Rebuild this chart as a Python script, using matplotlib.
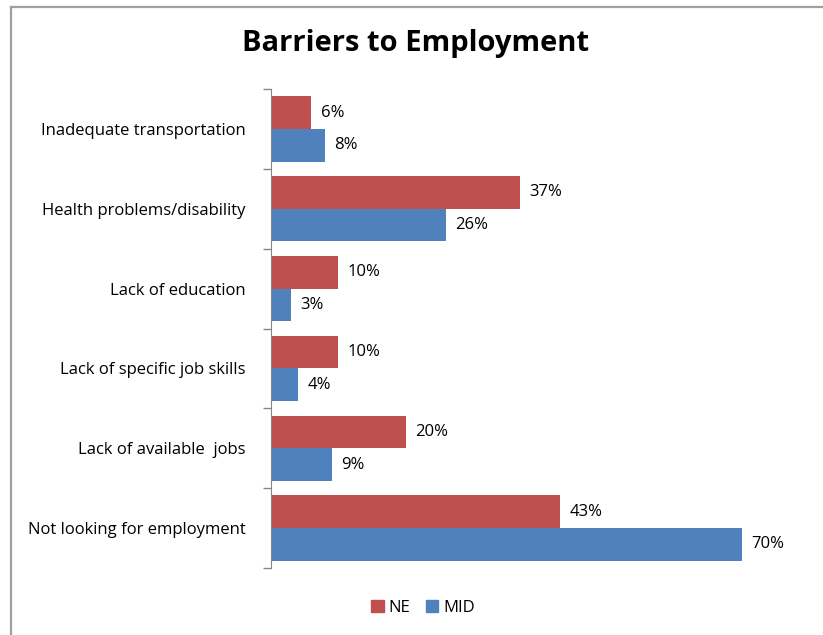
import numpy as np
import matplotlib.pyplot as plt
from matplotlib.lines import Line2D
from matplotlib.patches import Patch

plt.rcParams['font.family'] = ['Open Sans', 'DejaVu Sans']

categories = ['Inadequate transportation', 'Health problems/disability',
              'Lack of education', 'Lack of specific job skills',
              'Lack of available  jobs', 'Not looking for employment']
ne_vals = [6, 37, 10, 10, 20, 43]
mid_vals = [8, 26, 3, 4, 9, 70]

red = '#C0504D'
blue = '#4F81BD'

W, H = 823, 635
fig = plt.figure(figsize=(W / 100, H / 100), dpi=100)

# outer chart frame (left and top edges)
fig.add_artist(Line2D([11 / W, 11 / W], [0, 1 - 7 / H], color='#A0A0A0', lw=1.6))
fig.add_artist(Line2D([11 / W, 1], [1 - 7 / H, 1 - 7 / H], color='#A0A0A0', lw=1.6))

ax = fig.add_axes([271 / W, (H - 568) / H, (809 - 271) / W, (568 - 89) / H])

n = len(categories)
pos = np.arange(n)
bh = 0.41
ax.barh(pos - bh / 2, ne_vals, height=bh, color=red, label='NE')
ax.barh(pos + bh / 2, mid_vals, height=bh, color=blue, label='MID')

for i in range(n):
    ax.text(ne_vals[i] + 1.4, pos[i] - bh / 2, f'{ne_vals[i]}%', va='center', ha='left', fontsize=12)
    ax.text(mid_vals[i] + 1.4, pos[i] + bh / 2, f'{mid_vals[i]}%', va='center', ha='left', fontsize=12)

ax.set_xlim(0, 80)
ax.set_ylim(n - 0.5, -0.5)

ax.set_yticks(pos)
ax.set_yticklabels(categories, fontsize=12)
ax.set_yticks(np.arange(-0.5, n, 1), minor=True)
ax.tick_params(axis='y', which='major', length=0, pad=18)
ax.tick_params(axis='y', which='minor', length=6, color='#868686', width=1)
ax.set_xticks([])

for s in ['top', 'right', 'bottom']:
    ax.spines[s].set_visible(False)
ax.spines['left'].set_color('#868686')

fig.text(416 / W, 1 - 44 / H, 'Barriers to Employment', ha='center', va='center',
         fontsize=21, fontweight='bold')

handles = [Patch(color=red, label='NE'), Patch(color=blue, label='MID')]
fig.legend(handles=handles, loc='center', bbox_to_anchor=(423 / W, 1 - 608 / H), ncol=2,
           frameon=False, fontsize=12, handlelength=0.75, handleheight=0.75,
           handletextpad=0.3, columnspacing=0.9)

fig.savefig('out.png', dpi=100)
